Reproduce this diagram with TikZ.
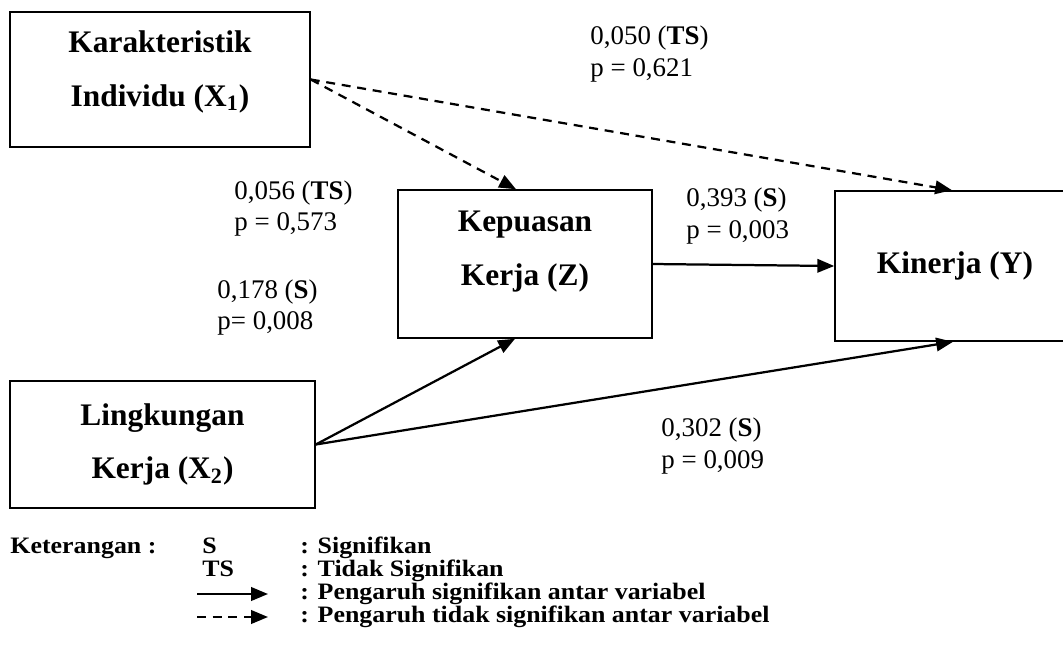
\documentclass[tikz,border=0pt]{standalone}
\usepackage{fontspec}
\setmainfont{Liberation Serif}
\newfontfamily\legendfont[FakeStretch=1.1]{Liberation Serif}
\usepackage{tikz}
\usetikzlibrary{arrows.meta}
\usetikzlibrary{positioning}

\begin{document}
\begin{tikzpicture}[x=0.446pt,y=-0.446pt]
\useasboundingbox (0,0) rectangle (1063,655);

\def\px{0.446pt}
\tikzset{>={Triangle[length=7.5pt,width=6pt]}}
\tikzstyle{block} = [
	draw, line width=0.7pt, rectangle, align=center,
	font=\fontsize{14}{17}\selectfont\bfseries ];
\tikzstyle{coef} = [anchor=west, inner sep=0pt, align=left,
	font=\fontsize{12}{14}\selectfont];
\tikzstyle{legend} = [anchor=base west, inner sep=0pt,
	font=\legendfont\fontsize{10.5}{12}\selectfont\bfseries];
\tikzstyle{sig} = [->, line width=1pt];
\tikzstyle{nsig} = [->, line width=1pt, dash pattern=on 4pt off 3pt];

\node[block, minimum width=300*\px, minimum height=135*\px, text depth=10pt] (x1) at (160,79.5)
	{Karakteristik\\[7pt]Individu (X\textsubscript{1})};
\node[block, minimum width=254*\px, minimum height=148*\px, text depth=14pt] (z) at (525,264)
	{Kepuasan\\[7pt]Kerja (Z)};
\node[block, minimum width=240*\px, minimum height=150*\px] (y) at (955,266)
	{Kinerja (Y)};
\node[block, minimum width=305*\px, minimum height=127*\px] (x2) at (162.5,444.5)
	{Lingkungan\\[7pt]Kerja (X\textsubscript{2})};

\draw[nsig] (x1.east) -- ([xshift=-9*\px]z.north);
\draw[nsig] (x1.east) -- ([xshift=-3*\px]y.north);
\draw[sig] (z.east) -- (y.west);
\draw[sig] (x2.east) -- ([xshift=-10*\px]z.south);
\draw[sig] (x2.east) -- ([xshift=-2*\px]y.south);

\node[coef] (c1) at (590,54) {0,050 (\textbf{TS})\\p = 0,621};
\node[coef] (c2) at (234,208.5) {0,056 (\textbf{TS})\\p = 0,573};
\node[coef] (c3) at (217,307.5) {0,178 (\textbf{S})\\p= 0,008};
\node[coef] (c4) at (686,216) {0,393 (\textbf{S})\\p = 0,003};
\node[coef] (c5) at (661,446) {0,302 (\textbf{S})\\p = 0,009};

% keterangan
\node[legend] (k0) at (10,553) {Keterangan :};
\node[legend] (k1) at (202,553) {S};
\node[legend] (k2) at (300,553) {: Signifikan};
\node[legend] (k3) at (202,576) {TS};
\node[legend] (k4) at (300,576) {: Tidak Signifikan};
\node[legend] (k5) at (300,599) {: Pengaruh signifikan antar variabel};
\node[legend] (k6) at (300,622) {: Pengaruh tidak signifikan antar variabel};
\coordinate (s0) at (197,594);
\coordinate (s1) at (268,594);
\coordinate (t0) at (197,617);
\coordinate (t1) at (268,617);
\draw[sig] (s0) -- (s1);
\draw[nsig] (t0) -- (t1);

\end{tikzpicture}
\end{document}
